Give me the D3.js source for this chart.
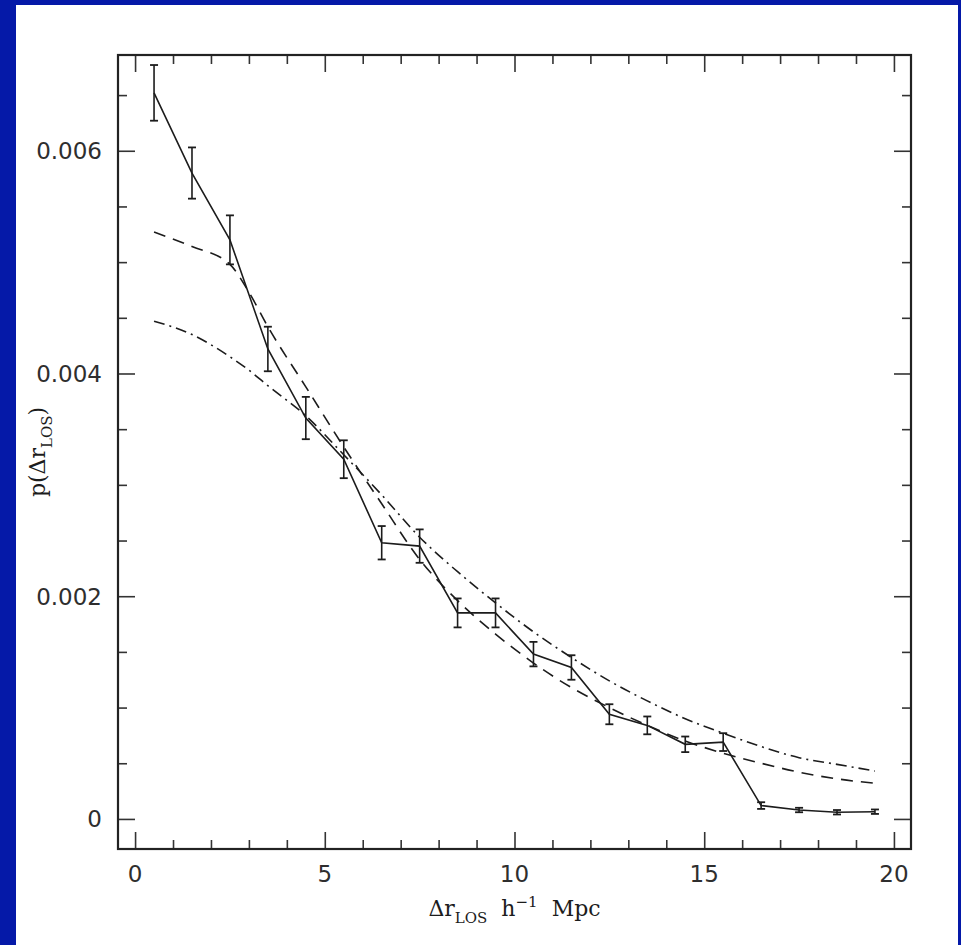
<!DOCTYPE html>
<html>
<head>
<meta charset="utf-8">
<script src="https://cdn.jsdelivr.net/npm/d3@7"></script>
<style>
  html, body { margin: 0; padding: 0; background: #ffffff; }
  svg { display: block; }
</style>
</head>
<body>
<script>
// ---- data ----
const xBins = [0.5, 1.5, 2.5, 3.5, 4.5, 5.5, 6.5, 7.5, 8.5, 9.5, 10.5, 11.5, 12.5, 13.5, 14.5, 15.5, 16.5, 17.5, 18.5, 19.5];
const pObserved = [0.00652, 0.00580, 0.00520, 0.00422, 0.00360, 0.00323, 0.00248, 0.00245, 0.00185, 0.00185,
                   0.00148, 0.00136, 0.00094, 0.00084, 0.00067, 0.00069, 0.00012, 0.00008, 0.00006, 0.000065];
const pError = [0.00025, 0.00023, 0.00022, 0.00020, 0.00019, 0.00017, 0.00015, 0.00015, 0.00013, 0.00013,
                0.00011, 0.00011, 0.00009, 0.00008, 0.00007, 0.00008, 0.00003, 0.00002, 0.00002, 0.00002];
const modelX = [0.5, 1.5, 2.5, 3, 3.5, 4.5, 5.5, 6.5, 7.5, 8.5, 9.5, 10.5, 11.5, 12.5, 13.5, 14.5, 15.5, 16.5, 17.5, 18.5, 19.5];
const modelDashed = [0.00527, 0.00514, 0.00498, 0.00473, 0.00442, 0.00388, 0.00334, 0.00283, 0.00233, 0.00196, 0.00166,
                     0.00140, 0.00118, 0.00100, 0.00084, 0.00070, 0.00059, 0.00050, 0.00042, 0.00036, 0.00032];
const modelDashDot = [0.00447, 0.00435, 0.00415, 0.00403, 0.00389, 0.00362, 0.00327, 0.00291, 0.00253, 0.00222, 0.00194,
                      0.00168, 0.00145, 0.00124, 0.00106, 0.00090, 0.00077, 0.00065, 0.00055, 0.00049, 0.00043];
const xTickValues = [0, 5, 10, 15, 20];
const xTickLabels = ["0", "5", "10", "15", "20"];
const yTickValues = [0, 0.002, 0.004, 0.006];
const yTickLabels = ["0", "0.002", "0.004", "0.006"];

// ---- layout ----
const W = 961, H = 945;
const frame = { left: 118, right: 911, top: 55, bottom: 849 };
const ink = "#1c1c1c";

const svg = d3.select("body").append("svg").attr("width", W).attr("height", H);

// blue surround
svg.append("rect").attr("x", 0).attr("y", 0).attr("width", W).attr("height", H).attr("fill", "#0519a8");
svg.append("rect").attr("x", 16).attr("y", 5).attr("width", W - 16 - 3).attr("height", H - 5).attr("fill", "#ffffff");

const x = d3.scaleLinear().domain([-0.45, 20.45]).range([frame.left, frame.right]);
const y = d3.scaleLinear().domain([-0.00027, 0.00686]).range([frame.bottom, frame.top]);

const g = svg.append("g");

// ticks (all four sides, inward)
function ticksAxis(axisGen, transform) {
  const a = g.append("g").attr("transform", transform).call(axisGen);
  a.select(".domain").remove();
  a.selectAll("line").attr("stroke", "#333").attr("stroke-width", 1.6);
  return a;
}
const xMinor = d3.range(0, 21, 1).filter(v => v % 5 !== 0);
const yMinor = d3.range(0, 0.00686, 0.0005).filter(v => Math.round(v * 10000) % 20 !== 0);

ticksAxis(d3.axisBottom(x).tickValues(xTickValues).tickSize(-17).tickFormat(""), `translate(0,${frame.bottom})`);
ticksAxis(d3.axisBottom(x).tickValues(xMinor).tickSize(-9).tickFormat(""), `translate(0,${frame.bottom})`);
ticksAxis(d3.axisTop(x).tickValues(xTickValues).tickSize(-17).tickFormat(""), `translate(0,${frame.top})`);
ticksAxis(d3.axisTop(x).tickValues(xMinor).tickSize(-9).tickFormat(""), `translate(0,${frame.top})`);
ticksAxis(d3.axisLeft(y).tickValues(yTickValues).tickSize(-17).tickFormat(""), `translate(${frame.left},0)`);
ticksAxis(d3.axisLeft(y).tickValues(yMinor).tickSize(-9).tickFormat(""), `translate(${frame.left},0)`);
ticksAxis(d3.axisRight(y).tickValues(yTickValues).tickSize(-17).tickFormat(""), `translate(${frame.right},0)`);
ticksAxis(d3.axisRight(y).tickValues(yMinor).tickSize(-9).tickFormat(""), `translate(${frame.right},0)`);

// tick labels
const labelFont = "'DejaVu Sans', sans-serif";
const labelInk = "#2e2e2e";
g.selectAll(".xl").data(xTickValues).enter().append("text")
  .attr("x", d => x(d)).attr("y", 882)
  .attr("text-anchor", "middle")
  .attr("font-family", labelFont).attr("font-size", 23).attr("fill", labelInk)
  .text((d, i) => xTickLabels[i]);
g.selectAll(".yl").data(yTickValues).enter().append("text")
  .attr("x", 102).attr("y", d => y(d) + 8.5)
  .attr("text-anchor", "end")
  .attr("font-family", labelFont).attr("font-size", 23).attr("fill", labelInk)
  .text((d, i) => yTickLabels[i]);

// frame
g.append("rect")
  .attr("x", frame.left).attr("y", frame.top)
  .attr("width", frame.right - frame.left).attr("height", frame.bottom - frame.top)
  .attr("fill", "none").attr("stroke", "#222").attr("stroke-width", 2.2);

// model curves
const modelLine = d3.line().x(d => x(d[0])).y(d => y(d[1])).curve(d3.curveMonotoneX);
g.append("path")
  .attr("d", modelLine(modelX.map((v, i) => [v, modelDashed[i]])))
  .attr("fill", "none").attr("stroke", ink).attr("stroke-width", 1.6)
  .attr("stroke-dasharray", "12,8");
g.append("path")
  .attr("d", modelLine(modelX.map((v, i) => [v, modelDashDot[i]])))
  .attr("fill", "none").attr("stroke", ink).attr("stroke-width", 1.6)
  .attr("stroke-dasharray", "11,5,2,5");

// observed line
const obsLine = d3.line().x(d => x(d[0])).y(d => y(d[1]));
g.append("path")
  .attr("d", obsLine(xBins.map((v, i) => [v, pObserved[i]])))
  .attr("fill", "none").attr("stroke", ink).attr("stroke-width", 1.6);

// error bars
const eb = g.selectAll(".eb").data(xBins.map((v, i) => ({ x: v, p: pObserved[i], e: pError[i] }))).enter().append("g");
eb.append("line")
  .attr("x1", d => x(d.x)).attr("x2", d => x(d.x))
  .attr("y1", d => y(d.p + d.e)).attr("y2", d => y(d.p - d.e))
  .attr("stroke", ink).attr("stroke-width", 1.6);
eb.append("line")
  .attr("x1", d => x(d.x) - 4).attr("x2", d => x(d.x) + 4)
  .attr("y1", d => y(d.p + d.e)).attr("y2", d => y(d.p + d.e))
  .attr("stroke", ink).attr("stroke-width", 1.8);
eb.append("line")
  .attr("x1", d => x(d.x) - 4).attr("x2", d => x(d.x) + 4)
  .attr("y1", d => y(d.p - d.e)).attr("y2", d => y(d.p - d.e))
  .attr("stroke", ink).attr("stroke-width", 1.8);

// axis titles
const titleFont = "'DejaVu Serif', serif";
const xt = svg.append("text")
  .attr("x", (frame.left + frame.right) / 2).attr("y", 916)
  .attr("text-anchor", "middle")
  .attr("font-family", titleFont).attr("font-size", 22).attr("fill", ink)
  .attr("word-spacing", 7);
xt.append("tspan").text("Δr");
xt.append("tspan").attr("font-size", 15).attr("dy", 7).text("LOS");
xt.append("tspan").attr("dy", -7).text(" h");
xt.append("tspan").attr("font-size", 15).attr("dy", -9).text("−1");
xt.append("tspan").attr("dy", 9).text(" Mpc");

const yt = svg.append("text")
  .attr("transform", `translate(45,${(frame.top + frame.bottom) / 2}) rotate(-90)`)
  .attr("text-anchor", "middle")
  .attr("font-family", titleFont).attr("font-size", 22).attr("fill", ink);
yt.append("tspan").text("p(Δr");
yt.append("tspan").attr("font-size", 15).attr("dy", 7).text("LOS");
yt.append("tspan").attr("dy", -7).text(")");
</script>
</body>
</html>
